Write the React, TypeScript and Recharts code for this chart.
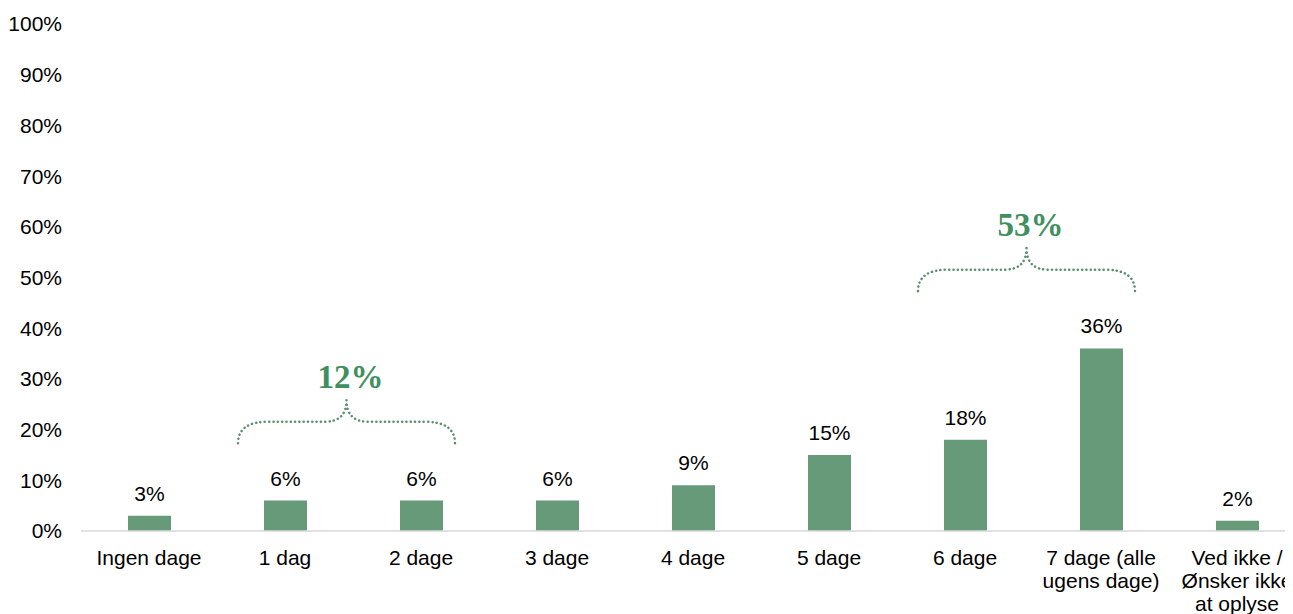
import React from 'react'
import {
  BarChart,
  Bar,
  XAxis,
  YAxis,
  LabelList,
  ReferenceArea,
} from 'recharts'

const categories = [
  'Ingen dage',
  '1 dag',
  '2 dage',
  '3 dage',
  '4 dage',
  '5 dage',
  '6 dage',
  '7 dage (alle ugens dage)',
  'Ved ikke / Ønsker ikke at oplyse',
]
const shares = [3, 6, 6, 6, 9, 15, 18, 36, 2]
const yTicks = [0, 10, 20, 30, 40, 50, 60, 70, 80, 90, 100]

// grouped totals shown with a brace above the bars
const groupFrom = ['1 dag', '6 dage']
const groupTo = ['2 dage', '7 dage (alle ugens dage)']
const groupTotals = ['12%', '53%']

const data = categories.map((name, i) => ({ name, value: shares[i] }))

const GREEN = '#669a79'
const LABEL_GREEN = '#3f8f5f'
const FONT = 'Arial, "Liberation Sans", sans-serif'

// simple word wrap, by character count
const wrap = (s: string, max: number) => {
  const lines: string[] = []
  let cur = ''
  s.split(' ').forEach((w) => {
    const next = cur ? cur + ' ' + w : w
    if (next.length > max && cur) {
      lines.push(cur)
      cur = w
    } else {
      cur = next
    }
  })
  if (cur) lines.push(cur)
  return lines
}

const XTick = (props: any) => {
  const { x, y, payload } = props
  const lines = wrap(String(payload.value), 12)
  return (
    <text
      x={x}
      y={y + 34}
      textAnchor="middle"
      fill="#000"
      fontSize={21}
      fontFamily={FONT}
    >
      {lines.map((l, i) => (
        <tspan key={i} x={x} dy={i === 0 ? 0 : 23}>
          {l}
        </tspan>
      ))}
    </text>
  )
}

const makeBrace = (label: string) => (props: any) => {
  const { x, y, width, height } = props
  const x0 = x + 21
  const x1 = x + width - 34
  const xm = (x0 + x1) / 2
  const yb = y + height
  const yt = y
  const yf = yt + height * 0.5
  const d = `M${x0},${yb} Q${x0},${yf} ${x0 + 30},${yf} L${xm - 22},${yf} Q${xm},${yf} ${xm},${yt} Q${xm},${yf} ${xm + 22},${yf} L${x1 - 30},${yf} Q${x1},${yf} ${x1},${yb}`
  return (
    <g>
      <path
        d={d}
        fill="none"
        stroke="#5a8f6f"
        strokeWidth={2.5}
        strokeDasharray="0.1 4.2"
        strokeLinecap="round"
      />
      <text
        x={xm + 4}
        y={yt - 12}
        textAnchor="middle"
        fill={LABEL_GREEN}
        fontSize={33}
        fontWeight="bold"
        fontFamily='"Times New Roman", "Liberation Serif", serif'
      >
        {label}
      </text>
    </g>
  )
}

export default function App() {
  return (
    <div style={{ width: 1285, overflow: 'hidden' }}>
      <BarChart
        width={1300}
        height={606}
        data={data}
        margin={{ top: 16, right: 3, left: 0, bottom: 0 }}
      >
        <XAxis
          dataKey="name"
          interval={0}
          height={83}
          tickLine={false}
          tickSize={0}
          tickMargin={0}
          axisLine={{ stroke: '#d9d9d9', strokeWidth: 1.5 }}
          tick={<XTick />}
        />
        <YAxis
          domain={[0, 100]}
          ticks={yTicks}
          width={73}
          axisLine={false}
          tickLine={false}
          tickSize={0}
          tickMargin={19}
          tickFormatter={(v: number) => `${v}%`}
          tick={{ fill: '#000', fontSize: 21, fontFamily: FONT }}
        />
        <Bar dataKey="value" fill={GREEN} barSize={43} isAnimationActive={false}>
          <LabelList
            dataKey="value"
            position="top"
            offset={15}
            formatter={(v: any) => `${v}%`}
            style={{ fill: '#000', fontSize: 21, fontFamily: FONT }}
          />
        </Bar>
        {groupTotals.map((label, i) => {
          const i0 = categories.indexOf(groupFrom[i])
          const i1 = categories.indexOf(groupTo[i])
          const top = Math.max(...shares.slice(i0, i1 + 1))
          return (
            <ReferenceArea
              key={label}
              x1={groupFrom[i]}
              x2={groupTo[i]}
              y1={top + 11.3}
              y2={top + 19.8}
              shape={makeBrace(label)}
            />
          )
        })}
      </BarChart>
    </div>
  )
}
